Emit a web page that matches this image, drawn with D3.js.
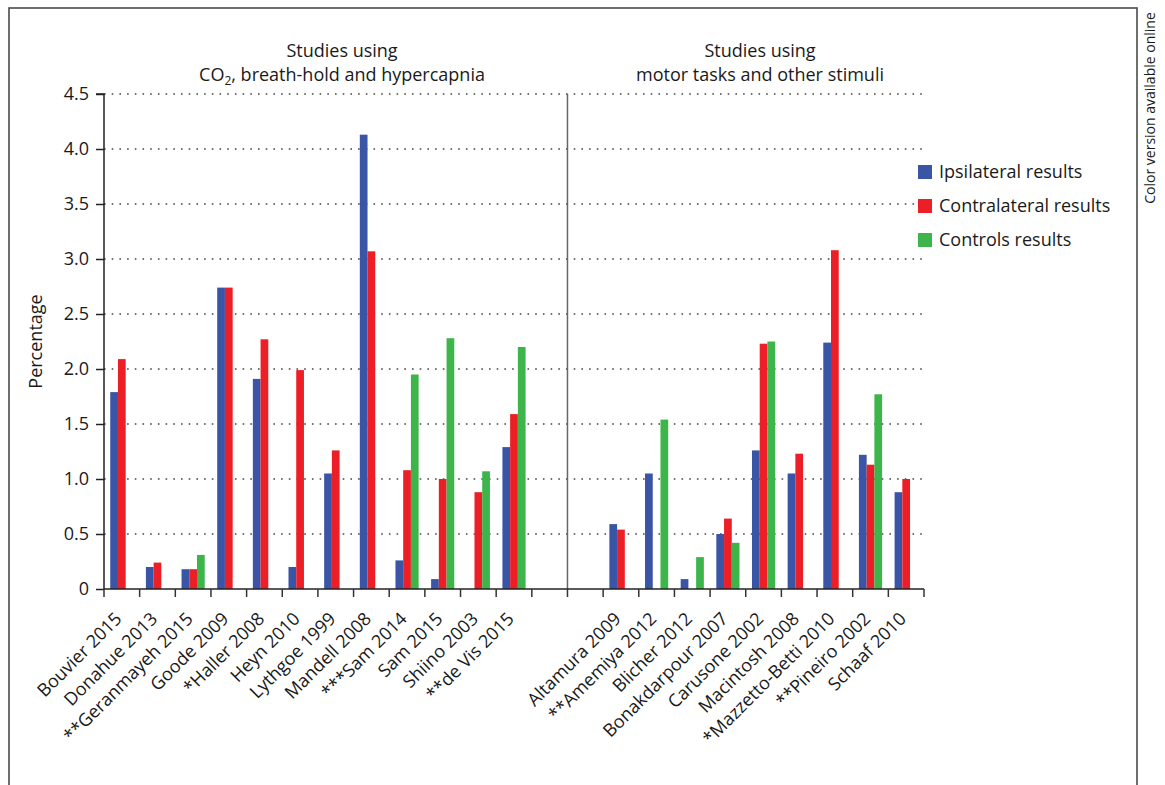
<!DOCTYPE html>
<html>
<head>
<meta charset="utf-8">
<script src="https://cdn.jsdelivr.net/npm/d3@7"></script>
<style>
  html, body { margin: 0; padding: 0; background: #fff; }
  svg { display: block; font-family: "Open Sans", "Noto Sans", sans-serif; }
</style>
</head>
<body>
<svg id="chart" width="1165" height="785"></svg>
<script>
// Study names, one per group; two blank slots separate the two study families
const leftStudies = ["Bouvier 2015", "Donahue 2013", "**Geranmayeh 2015", "Goode 2009", "*Haller 2008",
  "Heyn 2010", "Lythgoe 1999", "Mandell 2008", "***Sam 2014", "Sam 2015", "Shiino 2003", "**de Vis 2015"];
const rightStudies = ["Altamura 2009", "**Amemiya 2012", "Blicher 2012", "Bonakdarpour 2007", "Carusone 2002",
  "Macintosh 2008", "*Mazzetto-Betti 2010", "**Pineiro 2002", "Schaaf 2010"];

// Percentages per study (left studies then right studies); null = no bar
const ipsilateral = [1.79, 0.20, 0.18, 2.74, 1.91, 0.20, 1.05, 4.13, 0.26, 0.09, null, 1.29,
  0.59, 1.05, 0.09, 0.50, 1.26, 1.05, 2.24, 1.22, 0.88];
const contralateral = [2.09, 0.24, 0.18, 2.74, 2.27, 1.99, 1.26, 3.07, 1.08, 1.00, 0.88, 1.59,
  0.54, null, null, 0.64, 2.23, 1.23, 3.08, 1.13, 1.00];
const controls = [null, null, 0.31, null, null, null, null, null, 1.95, 2.28, 1.07, 2.20,
  null, 1.54, 0.29, 0.42, 2.25, null, null, 1.77, null];

const seriesNames = ["Ipsilateral results", "Contralateral results", "Controls results"];
const seriesColors = ["#3b55a6", "#ed1f26", "#3db54b"];
const yTicks = [0, 0.5, 1.0, 1.5, 2.0, 2.5, 3.0, 3.5, 4.0, 4.5];
const panelTitles = [
  ["Studies using", "CO", "2", ", breath-hold and hypercapnia"],
  ["Studies using", "motor tasks and other stimuli"]
];

const GAP_A = "gapA", GAP_B = "gapB";
const slots = [...leftStudies, GAP_A, GAP_B, ...rightStudies];
const studies = [...leftStudies, ...rightStudies];
const rows = studies.map((name, i) => ({
  name,
  values: [ipsilateral[i], contralateral[i], controls[i]]
}));

const svg = d3.select("#chart");
const margin = { left: 104, right: 241, top: 94, bottom: 196 };
const W = 1165, H = 785;

// outer frame (runs off the bottom edge)
svg.append("rect")
  .attr("x", 9).attr("y", 8).attr("width", 1128).attr("height", 820)
  .attr("fill", "none").attr("stroke", "#4a4a4a").attr("stroke-width", 1.6);

const x = d3.scaleBand().domain(slots).range([margin.left, W - margin.right]).padding(0);
const y = d3.scaleLinear().domain([0, 4.5]).range([H - margin.bottom, margin.top]);
const bw = x.bandwidth();
const groupW = bw * 0.65;
const x1 = d3.scaleBand().domain([0, 1, 2]).range([(bw - groupW) / 2, (bw + groupW) / 2]).padding(0);

// dotted gridlines
svg.append("g").selectAll("line")
  .data(yTicks.filter(d => d > 0))
  .join("line")
  .attr("x1", margin.left).attr("x2", W - margin.right)
  .attr("y1", d => y(d)).attr("y2", d => y(d))
  .attr("stroke", "#444").attr("stroke-width", 1.6)
  .attr("stroke-dasharray", "1.6,6.1");

// bars
const groups = svg.append("g").selectAll("g")
  .data(rows)
  .join("g")
  .attr("transform", d => `translate(${x(d.name)},0)`);
groups.selectAll("rect")
  .data(d => d.values.map((v, k) => ({ v, k })).filter(e => e.v !== null))
  .join("rect")
  .attr("x", e => x1(e.k))
  .attr("width", x1.bandwidth())
  .attr("y", e => y(e.v))
  .attr("height", e => y(0) - y(e.v))
  .attr("fill", e => seriesColors[e.k]);

// divider between the two study families
svg.append("line")
  .attr("x1", x(GAP_B)).attr("x2", x(GAP_B))
  .attr("y1", y(4.5)).attr("y2", y(0))
  .attr("stroke", "#666").attr("stroke-width", 1.5);

// y axis
const yAxis = svg.append("g")
  .attr("transform", `translate(${margin.left},0)`)
  .call(d3.axisLeft(y).tickValues(yTicks).tickSize(8).tickPadding(7)
    .tickFormat(d => d === 0 ? "0" : d3.format(".1f")(d)));
yAxis.selectAll("path, line").attr("stroke", "#222").attr("stroke-width", 1.5);
yAxis.select(".domain").attr("d", `M-8,${y(4.5)}H0V${y(0)}`);
yAxis.selectAll("text").attr("font-size", 18).attr("fill", "#1a1a1a")
  .attr("font-family", "'Open Sans', sans-serif");

// x axis: line, boundary ticks and rotated labels
const xAxis = svg.append("g").attr("transform", `translate(0,${y(0)})`);
xAxis.append("line")
  .attr("x1", margin.left).attr("x2", W - margin.right)
  .attr("stroke", "#222").attr("stroke-width", 1.5);
const bounds = [...slots.map(s => x(s)), x(slots[slots.length - 1]) + bw];
xAxis.selectAll("line.tick")
  .data(bounds)
  .join("line")
  .attr("class", "tick")
  .attr("x1", d => d).attr("x2", d => d)
  .attr("y1", 0).attr("y2", 8)
  .attr("stroke", "#333").attr("stroke-width", 1.5);
xAxis.selectAll("text")
  .data(studies)
  .join("text")
  .attr("transform", d => `translate(${x(d) + bw / 2 + 1},${31}) rotate(-45)`)
  .attr("text-anchor", "end")
  .attr("font-size", 18)
  .attr("fill", "#1a1a1a")
  .text(d => d);

// y axis title
svg.append("text")
  .attr("transform", `translate(42,${(y(0) + y(4.5)) / 2}) rotate(-90)`)
  .attr("text-anchor", "middle")
  .attr("font-size", 18).attr("fill", "#1a1a1a")
  .text("Percentage");

// panel titles
const t1 = svg.append("text").attr("x", 342).attr("y", 57)
  .attr("text-anchor", "middle").attr("font-size", 18).attr("fill", "#1a1a1a");
t1.append("tspan").attr("x", 342).text(panelTitles[0][0]);
const t1b = svg.append("text").attr("x", 342).attr("y", 81)
  .attr("text-anchor", "middle").attr("font-size", 18).attr("fill", "#1a1a1a");
t1b.append("tspan").text(panelTitles[0][1]);
t1b.append("tspan").attr("font-size", 12).attr("dy", 4).text(panelTitles[0][2]);
t1b.append("tspan").attr("dy", -4).text(panelTitles[0][3]);

svg.append("text").attr("x", 760).attr("y", 57)
  .attr("text-anchor", "middle").attr("font-size", 18).attr("fill", "#1a1a1a")
  .text(panelTitles[1][0]);
svg.append("text").attr("x", 760).attr("y", 81)
  .attr("text-anchor", "middle").attr("font-size", 18).attr("fill", "#1a1a1a")
  .text(panelTitles[1][1]);

// legend
const legend = svg.append("g").attr("transform", "translate(918,172)");
const items = legend.selectAll("g").data(seriesNames).join("g")
  .attr("transform", (d, i) => `translate(0,${i * 34})`);
items.append("rect").attr("x", 0).attr("y", -7).attr("width", 14).attr("height", 14)
  .attr("fill", (d, i) => seriesColors[i]);
items.append("text").attr("x", 21).attr("y", 0).attr("dy", "0.35em")
  .attr("font-size", 18).attr("fill", "#1a1a1a").text(d => d);

// side note
svg.append("text")
  .attr("transform", "translate(1155,108) rotate(-90)")
  .attr("text-anchor", "middle")
  .attr("font-size", 14).attr("fill", "#1a1a1a")
  .text("Color version available online");
</script>
</body>
</html>
